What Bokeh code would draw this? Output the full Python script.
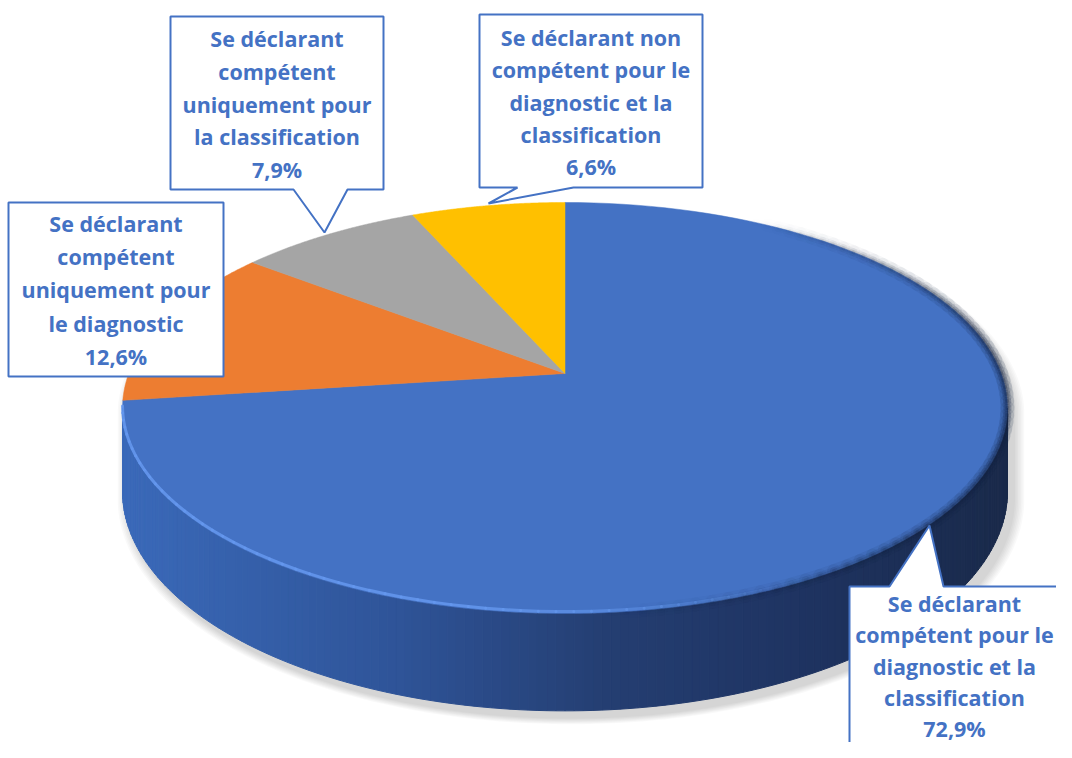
import numpy as np
from bokeh.plotting import figure
from bokeh.models import Range1d, ColumnDataSource
from bokeh.core.properties import value
from bokeh.embed import file_html
from bokeh.resources import INLINE

# ---------------- data ----------------
categories = [
    "Se déclarant\ncompétent pour le\ndiagnostic et la\nclassification",
    "Se déclarant\ncompétent\nuniquement pour\nle diagnostic",
    "Se déclarant\ncompétent\nuniquement pour\nla classification",
    "Se déclarant non\ncompétent pour le\ndiagnostic et la\nclassification",
]
values = [72.9, 12.6, 7.9, 6.6]
colors = ["#4472C4", "#ED7D31", "#A5A5A5", "#FFC000"]

# ---------------- layout (reference pixel space) ----------------
# perspective projection of the pie disc
CX, R, A, B, C, H = 564.5, 436.2, -137.1, 373.0, 0.1679, 81.0

# callout boxes: x0, y0, x1, y1, pointer (bx0, bx1, tx, ty, side), text centre x, first line y, line step
callouts = [
    dict(box=(849, 586, 1090, 775), ptr=(889, 943, 929, 525, "top"), tx=954, ty=603, step=31.25),
    dict(box=(8, 202, 223, 376), ptr=None, tx=115.5, ty=223, step=33.2),
    dict(box=(170, 16, 383, 189), ptr=(347, 293, 324, 232, "bottom"), tx=276.5, ty=38, step=32.75),
    dict(box=(479, 14, 702, 187), ptr=(573, 517, 488, 203, "bottom"), tx=590.5, ty=37, step=32.25),
]
TEXT_COLOR = "#4472C4"


def proj(phi_deg, drop=0.0):
    phi = np.radians(np.asarray(phi_deg, dtype=float))
    X = np.sin(phi)
    S = np.cos(phi)
    d = 1 + C * S
    x = CX + R * X / d
    y = (A * S + B) / d + drop * H / d
    return x, y


p = figure(width=1056, height=742, x_range=Range1d(0, 1056), y_range=Range1d(742, 0),
           output_backend="svg", toolbar_location=None, min_border=0)
p.axis.visible = False
p.grid.visible = False
p.outline_line_color = None
p.background_fill_color = "white"
p.border_fill_color = "white"

# silhouette angles
phi_sil = np.degrees(np.arccos(-C))  # ~99.7
phi_left = 360 - phi_sil              # ~260.3

# ---------------- shadow ----------------
back = np.linspace(-phi_sil, phi_sil, 200)
front = np.linspace(phi_sil, phi_left, 200)
bx_, by_ = proj(back)
fx_, fy_ = proj(front, drop=1.0)
sx = np.concatenate([bx_, fx_])
sy = np.concatenate([by_, fy_])
mx, my = sx.mean(), sy.mean()
sh_xs, sh_ys = [], []
for k in range(1, 8):
    s = 1 + 0.0035 * k
    sh_xs.append(list(mx + (sx - mx) * s + 6))
    sh_ys.append(list(my + (sy - my) * s + 7))
p.patches(sh_xs, sh_ys, fill_color="black", fill_alpha=0.022, line_color=None)

# ---------------- side of the pie (blue slice, front) ----------------
stops_x = [120, 400, 600, 800, 1010]
stops_c = [(0x3B, 0x6A, 0xBA), (0x2F, 0x54, 0x98), (0x25, 0x3F, 0x73), (0x1F, 0x34, 0x62), (0x1A, 0x2A, 0x4A)]


def side_color(x):
    r = int(np.interp(x, stops_x, [c[0] for c in stops_c]))
    g = int(np.interp(x, stops_x, [c[1] for c in stops_c]))
    b = int(np.interp(x, stops_x, [c[2] for c in stops_c]))
    return "#%02x%02x%02x" % (r, g, b)


angles = np.linspace(phi_sil, phi_left, 161)
side_xs, side_ys, side_cols = [], [], []
for a0, a1 in zip(angles[:-1], angles[1:]):
    tx0, ty0 = proj(a0)
    tx1, ty1 = proj(a1)
    bx0, by0 = proj(a0, 1.0)
    bx1, by1 = proj(a1, 1.0)
    side_xs.append([float(tx0), float(tx1), float(bx1), float(bx0)])
    side_ys.append([float(ty0), float(ty1), float(by1), float(by0)])
    side_cols.append(side_color((tx0 + tx1) / 2))
p.patches(side_xs, side_ys, fill_color=side_cols, line_color=side_cols, line_width=1)

# ---------------- top face slices ----------------
apex_x, apex_y = CX, B
cum = np.concatenate([[0], np.cumsum(values)]) / sum(values) * 360
top_xs, top_ys = [], []
for i in range(len(values)):
    ph = np.linspace(cum[i], cum[i + 1], 120)
    rx, ry = proj(ph)
    top_xs.append([apex_x] + list(rx))
    top_ys.append([apex_y] + list(ry))
p.patches(top_xs, top_ys, fill_color=colors, line_color=colors, line_width=0.5)

# ---------------- rim shading ----------------
seg_ang = np.linspace(30, phi_left, 120)
dark_xs, dark_ys, dark_alpha = [], [], []
lite_xs, lite_ys, lite_alpha = [], [], []
for a0, a1 in zip(seg_ang[:-1], seg_ang[1:]):
    x0, y0 = proj(a0)
    x1, y1 = proj(a1)
    am = (a0 + a1) / 2
    da = np.clip((am - 30) / 50, 0, 1) * np.clip((175 - am) / 45, 0, 1)
    la = np.clip((am - 150) / 40, 0, 1)
    dark_xs.append([float(x0), float(x1)])
    dark_ys.append([float(y0), float(y1)])
    dark_alpha.append(float(da))
    lite_xs.append([float(x0), float(x1)])
    lite_ys.append([float(y0) - 2.0, float(y1) - 2.0])
    lite_alpha.append(float(la))
for w, al in [(14, 0.10), (8, 0.15), (4, 0.2)]:
    p.multi_line(dark_xs, dark_ys, line_color="#142443", line_width=w,
                 line_alpha=[al * v for v in dark_alpha], line_cap="round")
p.multi_line(lite_xs, lite_ys, line_color="#6598EE", line_width=3,
             line_alpha=[0.85 * v for v in lite_alpha], line_cap="round")

# ---------------- callouts ----------------
cx_list, cy_list = [], []
txt_x, txt_y, txt = [], [], []
for i, co in enumerate(callouts):
    x0, y0, x1, y1 = co["box"]
    ptr = co["ptr"]
    if ptr is None:
        xs = [x0, x1, x1, x0]
        ys = [y0, y0, y1, y1]
    elif ptr[4] == "bottom":
        bx0, bx1, tx, ty, _ = ptr
        xs = [x0, x1, x1, bx0, tx, bx1, x0]
        ys = [y0, y0, y1, y1, ty, y1, y1]
    else:
        bx0, bx1, tx, ty, _ = ptr
        xs = [x0, bx0, tx, bx1, x1, x1, x0]
        ys = [y0, y0, ty, y0, y0, y1, y1]
    cx_list.append(xs)
    cy_list.append(ys)
    lines = categories[i].split("\n") + [("%.1f%%" % values[i]).replace(".", ",")]
    for j, ln in enumerate(lines):
        txt_x.append(co["tx"])
        txt_y.append(co["ty"] + j * co["step"])
        txt.append(ln)

p.patches(cx_list, cy_list, fill_color="white", line_color="#4472C4", line_width=2)

src = ColumnDataSource(dict(x=txt_x, y=txt_y, text=txt))
p.text("x", "y", text="text", source=src, text_align="center", text_baseline="alphabetic",
       text_font=value("Open Sans"), text_font_style="bold", text_font_size="21.5px",
       text_color=TEXT_COLOR)

open("out.html", "w").write(file_html(p, INLINE))
